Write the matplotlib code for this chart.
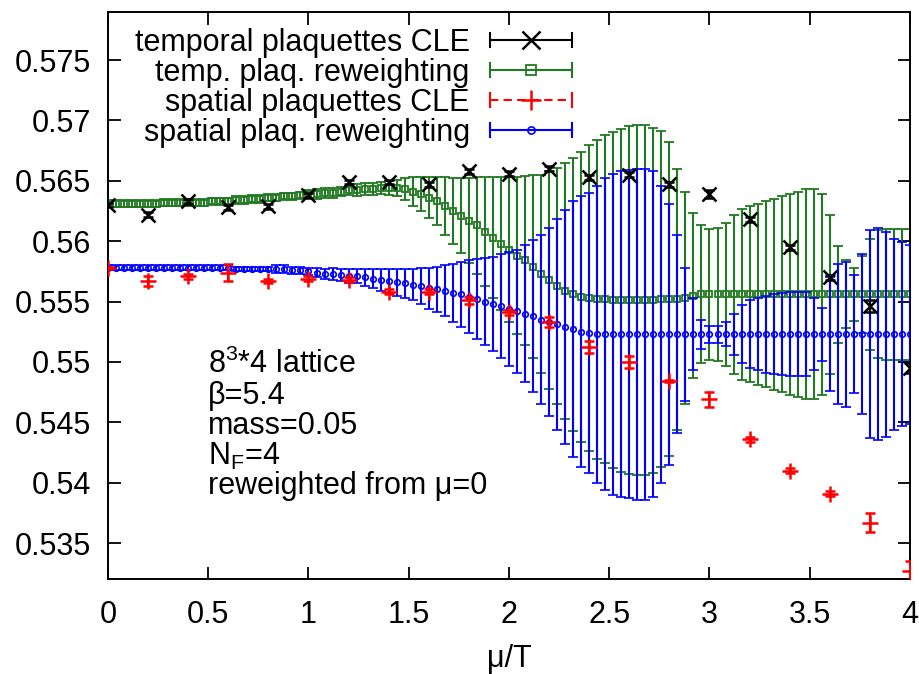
import numpy as np
import matplotlib
matplotlib.use("Agg")
import matplotlib.pyplot as plt
from matplotlib.container import ErrorbarContainer
from matplotlib.legend_handler import HandlerBase
from matplotlib.lines import Line2D

plt.rcParams["font.family"] = ["Liberation Sans", "DejaVu Sans"]
plt.rcParams["mathtext.fontset"] = "custom"
plt.rcParams["mathtext.rm"] = "Liberation Sans"
plt.rcParams["mathtext.it"] = "Liberation Sans:italic"
FS = 22

# ---- CLE runs, mu/T = 0, 0.2, ..., 4 --------------------------------------
mu_cle = [0.0, 0.2, 0.4, 0.6, 0.8, 1.0, 1.2, 1.4, 1.6, 1.8, 2.0,
          2.2, 2.4, 2.6, 2.8, 3.0, 3.2, 3.4, 3.6, 3.8, 4.0]
temp_cle = [0.5630, 0.5622, 0.5633, 0.5628, 0.5629, 0.5638, 0.5649, 0.5649, 0.5647, 0.5658, 0.5656,
            0.5660, 0.5653, 0.5655, 0.5647, 0.5639, 0.5618, 0.5595, 0.5570, 0.5546, 0.5495]
temp_cle_err = [0.0002, 0.0002, 0.0002, 0.0002, 0.0002, 0.0002, 0.0002, 0.0002, 0.0002, 0.0002, 0.0002,
                0.0002, 0.0002, 0.0002, 0.0002, 0.0003, 0.0002, 0.0002, 0.0002, 0.0005, 0.0004]
spat_cle = [0.5578, 0.5567, 0.5571, 0.5574, 0.5567, 0.5569, 0.5568, 0.5558, 0.5558, 0.5551, 0.5541,
            0.5533, 0.5512, 0.5500, 0.5484, 0.5469, 0.5436, 0.5410, 0.5391, 0.5367, 0.5327]
spat_cle_err = [0.0001, 0.0004, 0.0002, 0.0007, 0.0002, 0.0002, 0.0002, 0.0002, 0.0002, 0.0003, 0.0002,
                0.0004, 0.0005, 0.0005, 0.0001, 0.0006, 0.0002, 0.0002, 0.0002, 0.0008, 0.0008]

# ---- reweighting from mu=0, step 0.04 --------------------------------------
mu_rw = np.linspace(0.0, 4.0, 101)
temp_rw = [
    0.5631, 0.5631, 0.5631, 0.5631, 0.5631, 0.5631, 0.5631, 0.5632, 0.5632, 0.5632,
    0.5632, 0.5632, 0.5632, 0.5633, 0.5633, 0.5633, 0.5634, 0.5634, 0.5635, 0.5635,
    0.5636, 0.5636, 0.5637, 0.5637, 0.5638, 0.5639, 0.5639, 0.5640, 0.5640, 0.5641,
    0.5642, 0.5642, 0.5643, 0.5643, 0.5644, 0.5644, 0.5644, 0.5643, 0.5641, 0.5639,
    0.5636, 0.5633, 0.5629, 0.5625, 0.5621, 0.5617, 0.5613, 0.5608, 0.5603, 0.5598,
    0.5593, 0.5588, 0.5584, 0.5579, 0.5573, 0.5568, 0.5563, 0.5559, 0.5556, 0.5554,
    0.5553, 0.5552, 0.5552, 0.5551, 0.5551, 0.5551, 0.5551, 0.5551, 0.5551, 0.5552,
    0.5552, 0.5552, 0.5553, 0.5555, 0.5556, 0.5556, 0.5556, 0.5556, 0.5556, 0.5556,
    0.5556, 0.5556, 0.5556, 0.5556, 0.5556, 0.5556, 0.5556, 0.5556, 0.5556, 0.5556,
    0.5556, 0.5556, 0.5556, 0.5556, 0.5556, 0.5556, 0.5556, 0.5556, 0.5556, 0.5556,
    0.5556]
temp_rw_err = [
    0.0003, 0.0003, 0.0003, 0.0003, 0.0003, 0.0003, 0.0003, 0.0003, 0.0003, 0.0003,
    0.0003, 0.0003, 0.0003, 0.0003, 0.0003, 0.0003, 0.0003, 0.0003, 0.0003, 0.0003,
    0.0003, 0.0003, 0.0003, 0.0003, 0.0003, 0.0003, 0.0004, 0.0004, 0.0004, 0.0004,
    0.0004, 0.0005, 0.0005, 0.0005, 0.0005, 0.0006, 0.0007, 0.0009, 0.0012, 0.0014,
    0.0017, 0.0020, 0.0024, 0.0027, 0.0031, 0.0035, 0.0040, 0.0045, 0.0050, 0.0055,
    0.0060, 0.0065, 0.0070, 0.0076, 0.0082, 0.0090, 0.0098, 0.0106, 0.0113, 0.0120,
    0.0127, 0.0132, 0.0136, 0.0139, 0.0142, 0.0144, 0.0145, 0.0145, 0.0143, 0.0139,
    0.0130, 0.0108, 0.0088, 0.0068, 0.0057, 0.0054, 0.0055, 0.0059, 0.0066, 0.0071,
    0.0073, 0.0075, 0.0077, 0.0079, 0.0081, 0.0083, 0.0085, 0.0087, 0.0087, 0.0083,
    0.0066, 0.0040, 0.0028, 0.0022, 0.0032, 0.0046, 0.0053, 0.0054, 0.0054, 0.0054,
    0.0054]
spat_rw = [
    0.5578, 0.5578, 0.5578, 0.5578, 0.5578, 0.5578, 0.5578, 0.5578, 0.5578, 0.5578,
    0.5578, 0.5578, 0.5578, 0.5578, 0.5578, 0.5578, 0.5577, 0.5577, 0.5577, 0.5577,
    0.5577, 0.5577, 0.5577, 0.5576, 0.5576, 0.5575, 0.5574, 0.5573, 0.5573, 0.5572,
    0.5571, 0.5571, 0.5570, 0.5569, 0.5568, 0.5567, 0.5566, 0.5565, 0.5564, 0.5563,
    0.5561, 0.5560, 0.5559, 0.5557, 0.5556, 0.5554, 0.5552, 0.5550, 0.5548, 0.5546,
    0.5544, 0.5542, 0.5540, 0.5538, 0.5535, 0.5533, 0.5531, 0.5529, 0.5527, 0.5525,
    0.5524, 0.5523, 0.5523, 0.5523, 0.5523, 0.5523, 0.5523, 0.5523, 0.5523, 0.5523,
    0.5523, 0.5523, 0.5523, 0.5523, 0.5523, 0.5523, 0.5523, 0.5523, 0.5523, 0.5523,
    0.5523, 0.5523, 0.5523, 0.5523, 0.5523, 0.5523, 0.5523, 0.5523, 0.5523, 0.5523,
    0.5523, 0.5523, 0.5523, 0.5523, 0.5523, 0.5523, 0.5523, 0.5523, 0.5523, 0.5523,
    0.5523]
spat_rw_err = [
    0.0002, 0.0002, 0.0002, 0.0002, 0.0002, 0.0002, 0.0002, 0.0002, 0.0002, 0.0002,
    0.0002, 0.0002, 0.0002, 0.0002, 0.0002, 0.0002, 0.0002, 0.0002, 0.0002, 0.0002,
    0.0002, 0.0003, 0.0003, 0.0003, 0.0003, 0.0003, 0.0004, 0.0004, 0.0005, 0.0005,
    0.0006, 0.0006, 0.0007, 0.0008, 0.0009, 0.0010, 0.0011, 0.0012, 0.0013, 0.0015,
    0.0017, 0.0019, 0.0021, 0.0024, 0.0027, 0.0030, 0.0033, 0.0036, 0.0039, 0.0043,
    0.0047, 0.0051, 0.0057, 0.0063, 0.0070, 0.0078, 0.0087, 0.0097, 0.0106, 0.0112,
    0.0116, 0.0123, 0.0129, 0.0133, 0.0135, 0.0136, 0.0137, 0.0137, 0.0135, 0.0123,
    0.0108, 0.0082, 0.0055, 0.0030, 0.0012, 0.0007, 0.0007, 0.0010, 0.0017, 0.0024,
    0.0028, 0.0030, 0.0032, 0.0033, 0.0034, 0.0035, 0.0035, 0.0035, 0.0030, 0.0022,
    0.0047, 0.0058, 0.0060, 0.0049, 0.0066, 0.0086, 0.0088, 0.0085, 0.0079, 0.0076,
    0.0074]

x_ticks = [0, 0.5, 1, 1.5, 2, 2.5, 3, 3.5, 4]
x_labels = ["0", "0.5", "1", "1.5", "2", "2.5", "3", "3.5", "4"]
y_ticks = [0.535, 0.54, 0.545, 0.55, 0.555, 0.56, 0.565, 0.57, 0.575]
y_labels = ["0.535", "0.54", "0.545", "0.55", "0.555", "0.56", "0.565", "0.57", "0.575"]

GREEN = "#217a21"
BLUE = "#0000ff"
RED = "#ff0000"
BLACK = "#000000"
LW = 1.5


class GnuplotErrKey(HandlerBase):
    """Key sample in gnuplot style: horizontal bar with end ticks, point in the middle."""

    def __init__(self, styles):
        super().__init__()
        self.styles = styles

    def create_artists(self, legend, orig_handle, xdescent, ydescent,
                       width, height, fontsize, trans):
        data_line = orig_handle.lines[0]
        color = data_line.get_markeredgecolor()
        ls = self.styles.get(orig_handle.get_label(), "-")
        x0, x1 = -xdescent, width - xdescent
        y = height / 2 - ydescent
        h = 0.22 * fontsize
        bar = Line2D([x0, x1], [y, y], color=color, lw=LW, ls=ls)
        ticks = Line2D([x0, x0, np.nan, x1, x1], [y - h, y + h, np.nan, y - h, y + h],
                       color=color, lw=LW)
        mark = Line2D([(x0 + x1) / 2], [y], ls="none",
                      marker=data_line.get_marker(),
                      markersize=data_line.get_markersize() * 1.3,
                      markeredgewidth=data_line.get_markeredgewidth(),
                      markeredgecolor=color,
                      markerfacecolor=data_line.get_markerfacecolor())
        for a in (bar, ticks, mark):
            a.set_transform(trans)
        return [bar, ticks, mark]


fig = plt.figure(figsize=(9.2, 6.74), dpi=100)
ax = fig.add_axes([0.1174, 0.1405, 0.8717, 0.8421])

eb_tw = ax.errorbar(mu_rw, temp_rw, yerr=temp_rw_err, fmt="s", ms=5, mew=1.3,
                    mfc="none", mec=GREEN, ecolor=GREEN, elinewidth=LW,
                    capsize=3.6, capthick=LW, label="temp. plaq. reweighting", zorder=2)
eb_sw = ax.errorbar(mu_rw, spat_rw, yerr=spat_rw_err, fmt="o", ms=4, mew=1.2,
                    mfc="none", mec=BLUE, ecolor=BLUE, elinewidth=LW,
                    capsize=3.6, capthick=LW, label="spatial plaq. reweighting", zorder=3)
eb_sc = ax.errorbar(mu_cle, spat_cle, yerr=spat_cle_err, fmt="+", ms=11, mew=1.8,
                    mec=RED, ecolor=RED, elinewidth=LW, capsize=3.6, capthick=LW,
                    label="spatial plaquettes CLE", zorder=4)
eb_tc = ax.errorbar(mu_cle, temp_cle, yerr=temp_cle_err, fmt="x", ms=10, mew=1.8,
                    mec=BLACK, ecolor=BLACK, elinewidth=LW, capsize=3.6, capthick=LW,
                    label="temporal plaquettes CLE", zorder=5)

ax.set_xlim(0, 4)
ax.set_ylim(0.532, 0.579)
ax.set_xticks(x_ticks)
ax.set_xticklabels(x_labels)
ax.set_yticks(y_ticks)
ax.set_yticklabels(y_labels)
ax.tick_params(direction="in", length=9, width=1.3, labelsize=FS,
               top=True, right=True)
ax.tick_params(axis="x", pad=15)
ax.tick_params(axis="y", pad=12)
for sp in ax.spines.values():
    sp.set_linewidth(1.4)
ax.set_xlabel("\u03bc/T", fontsize=FS, labelpad=10)

# run parameters
info = [r"8$^{3}$*4 lattice", "\u03b2=5.4", "mass=0.05", r"N$_{\mathrm{F}}$=4",
        "reweighted from \u03bc=0"]
info_y = [0.5498, 0.5472, 0.5447, 0.5422, 0.5397]
for txt, yy in zip(info, info_y):
    ax.text(0.5, yy, txt, fontsize=FS, ha="left", va="center")

handles = [eb_tc, eb_tw, eb_sc, eb_sw]
styles = {"spatial plaquettes CLE": (0, (4, 2.5))}
leg = ax.legend(handles=handles, labels=[h.get_label() for h in handles],
                handler_map={ErrorbarContainer: GnuplotErrKey(styles)},
                loc="upper right", bbox_to_anchor=(0.5786, 0.972),
                markerfirst=False, frameon=False, fontsize=FS,
                handlelength=2.7, handletextpad=0.65, labelspacing=0.0,
                borderpad=0, borderaxespad=0)

fig.savefig("out.png", dpi=100)
